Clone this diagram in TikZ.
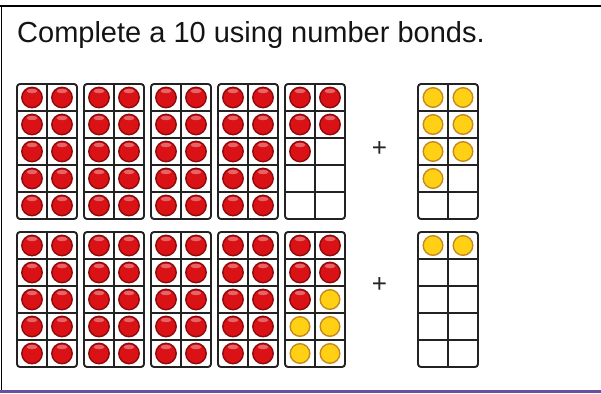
\documentclass[tikz,border=0pt]{standalone}
\usepackage{fontspec}
\setmainfont{Liberation Sans}
\usepackage{tikz}

\definecolor{counterred}{RGB}{218,18,22}
\definecolor{rimred}{RGB}{140,10,12}
\definecolor{counteryellow}{RGB}{255,208,20}
\definecolor{rimyellow}{RGB}{196,138,30}
\definecolor{framegrey}{RGB}{34,34,34}
\definecolor{edgepurple}{RGB}{106,78,158}

% ten frame at top left (#1,#2), #3 red counters then #4 yellow ones
\newcommand{\tenframe}[4]{%
  \foreach \k in {1,...,10} {
    \pgfmathtruncatemacro{\rw}{(\k-1)/2}
    \pgfmathtruncatemacro{\cl}{mod(\k-1,2)}
    \pgfmathtruncatemacro{\lastred}{#3}
    \pgfmathtruncatemacro{\lastall}{#3+#4}
    \ifnum\k>\lastall\else
      \ifnum\k>\lastred
        \fill [counteryellow] (#1+15+30*\cl,#2+13.5+27*\rw) circle (9.8);
        \draw [rimyellow, line width=1.4pt] (#1+15+30*\cl,#2+13.5+27*\rw) circle (9.8);
      \else
        \fill [counterred] (#1+15+30*\cl,#2+13.5+27*\rw) circle (10.2);
        \draw [rimred, line width=1.4pt] (#1+15+30*\cl,#2+13.5+27*\rw) circle (10.2);
        \fill [white, opacity=0.35] (#1+15+30*\cl,#2+7+27*\rw) ellipse (5.5 and 2.2);
      \fi
    \fi
  }
  \draw [framegrey, line width=1.1pt] (#1+30,#2) -- ++(0,135);
  \foreach \r in {1,...,4}
    \draw [framegrey, line width=1.1pt] (#1,#2+27*\r) -- ++(60,0);
  \draw [framegrey, line width=1.9pt, rounded corners=3pt] (#1,#2) rectangle ++(60,135);
}

\begin{document}
\begin{tikzpicture}[x=1pt,y=-1pt]
\useasboundingbox (0,0) rectangle (601,393);
\draw [black, line width=2pt] (0,6) -- (601,6);
\draw [black, line width=1.3pt] (1.2,5) -- (1.2,393);
\draw [edgepurple, line width=3pt] (0,391.5) -- (601,391.5);
\node [anchor=base west, inner sep=0pt, text=black!92] (title) at (17,43)
  {\fontsize{29}{34}\selectfont Complete a 10 using number bonds.};
\foreach \n in {0,...,3} {
  \tenframe{17+67*\n}{84}{10}{0}
  \tenframe{17+67*\n}{232}{10}{0}
}
\tenframe{285}{84}{5}{0}
\tenframe{285}{232}{5}{5}
\tenframe{418}{84}{0}{7}
\tenframe{418}{232}{0}{2}
\node [inner sep=0pt, text=black!85] (plusA) at (379.5,148.5) {\fontsize{26}{26}\selectfont +};
\node [inner sep=0pt, text=black!85] (plusB) at (379.5,285) {\fontsize{26}{26}\selectfont +};
\end{tikzpicture}
\end{document}
